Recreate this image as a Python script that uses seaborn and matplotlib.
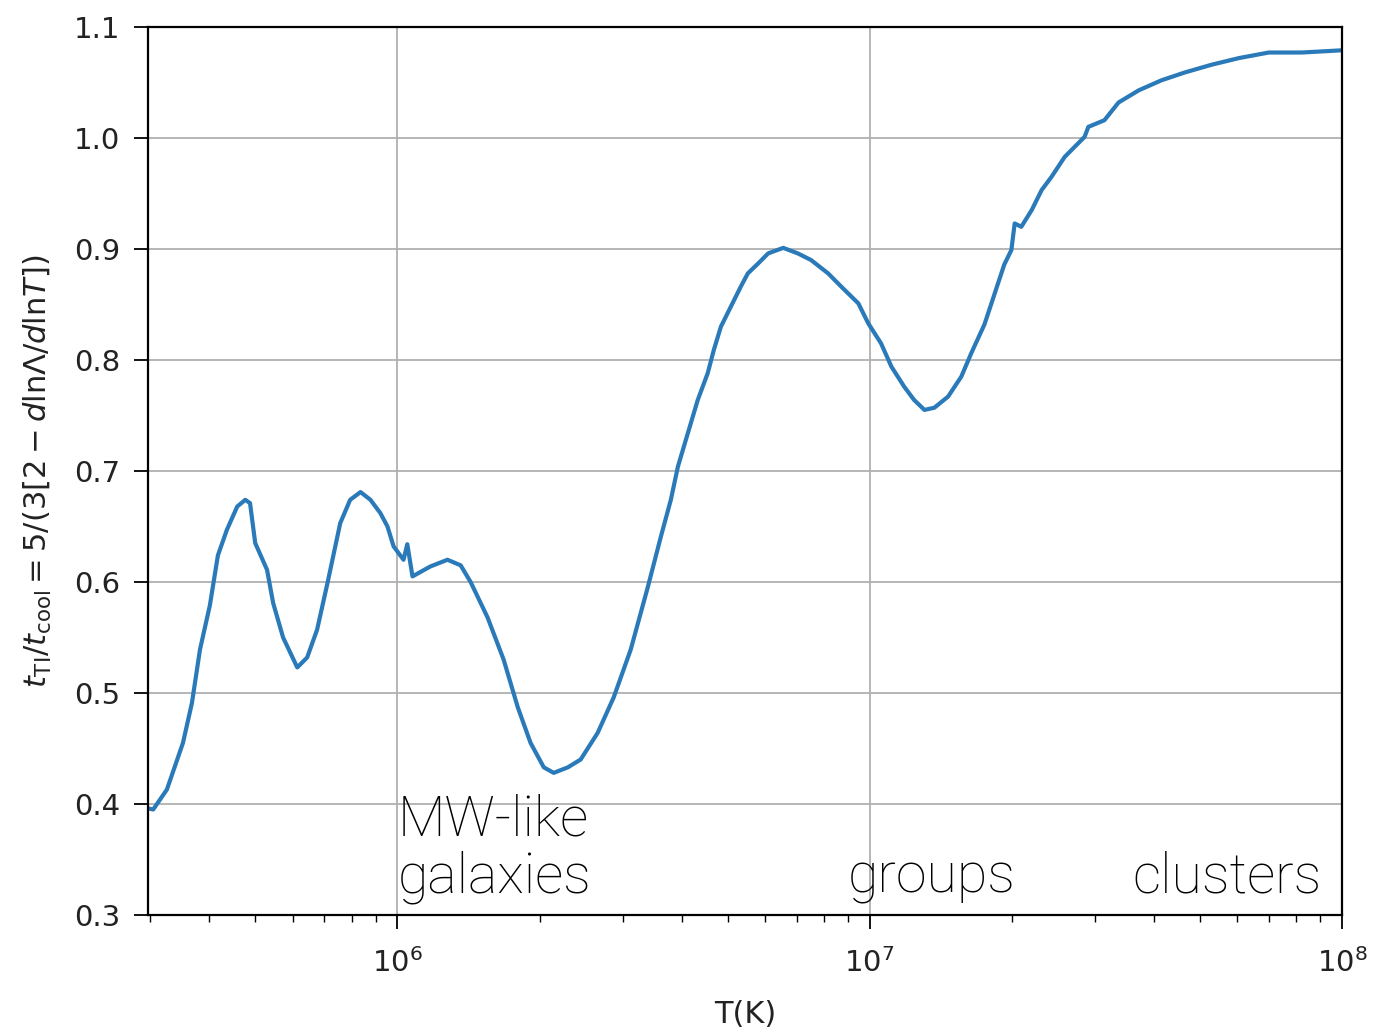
import numpy as np
import pandas as pd
import matplotlib
matplotlib.use("Agg")
import matplotlib.pyplot as plt
import seaborn as sns

# log10 of temperature (K) and ratio t_TI / t_cool
log_T = [5.472, 5.483, 5.512, 5.546, 5.565, 5.582, 5.603, 5.620, 5.639, 5.661,
         5.678, 5.688, 5.699, 5.724, 5.737, 5.758, 5.788, 5.809, 5.830, 5.852,
         5.879, 5.900, 5.922, 5.943, 5.964, 5.979, 5.992, 6.013, 6.021, 6.032,
         6.070, 6.106, 6.134, 6.155, 6.191, 6.225, 6.255, 6.282, 6.310, 6.331,
         6.361, 6.388, 6.424, 6.458, 6.494, 6.530, 6.558, 6.579, 6.594, 6.615,
         6.636, 6.657, 6.670, 6.685, 6.706, 6.727, 6.742, 6.764, 6.785, 6.817,
         6.848, 6.876, 6.912, 6.940, 6.976, 6.997, 7.024, 7.046, 7.073, 7.094,
         7.116, 7.137, 7.166, 7.194, 7.215, 7.243, 7.264, 7.285, 7.300, 7.307,
         7.321, 7.343, 7.364, 7.385, 7.413, 7.455, 7.463, 7.497, 7.527, 7.570,
         7.618, 7.667, 7.724, 7.782, 7.845, 7.915, 8.000]
ratio = [0.396, 0.395, 0.413, 0.455, 0.491, 0.539, 0.579, 0.624, 0.647, 0.668,
         0.674, 0.671, 0.635, 0.611, 0.581, 0.550, 0.523, 0.532, 0.557, 0.599,
         0.653, 0.674, 0.681, 0.674, 0.662, 0.650, 0.632, 0.620, 0.634, 0.605,
         0.614, 0.620, 0.615, 0.600, 0.568, 0.530, 0.487, 0.455, 0.433, 0.428,
         0.433, 0.440, 0.464, 0.496, 0.539, 0.595, 0.641, 0.674, 0.704, 0.734,
         0.764, 0.788, 0.809, 0.830, 0.848, 0.866, 0.878, 0.887, 0.896, 0.901,
         0.896, 0.890, 0.878, 0.866, 0.851, 0.833, 0.815, 0.794, 0.776, 0.764,
         0.755, 0.757, 0.767, 0.785, 0.806, 0.832, 0.859, 0.886, 0.899, 0.923,
         0.920, 0.935, 0.953, 0.965, 0.983, 1.001, 1.010, 1.016, 1.032, 1.043,
         1.052, 1.059, 1.066, 1.072, 1.077, 1.077, 1.079]

y_ticks = [0.3, 0.4, 0.5, 0.6, 0.7, 0.8, 0.9, 1.0, 1.1]
labels = ["MW-like\ngalaxies", "groups", "clusters"]
label_T = [1.0e6, 9.0e6, 3.6e7]

df = pd.DataFrame({"T": 10 ** np.array(log_T), "ratio": ratio})

sns.set_style("ticks")
plt.rcParams["font.family"] = ["DejaVu Sans"]

fig = plt.figure(figsize=(13.73, 10.30), dpi=100)
ax = fig.add_axes([0.1078, 0.1117, 0.8696, 0.8621])

sns.lineplot(data=df, x="T", y="ratio", ax=ax, color="#2a7ab9",
             linewidth=3.0, estimator=None, sort=False)

ax.set_xscale("log")
ax.set_xlim(10 ** 5.472, 1e8)
ax.set_ylim(0.3, 1.1)
ax.set_yticks(y_ticks)
ax.set_yticklabels([f"{v:.1f}" for v in y_ticks])
ax.grid(True, which="major", color="#b0b0b0", linewidth=1.3)
ax.tick_params(axis="both", which="major", labelsize=21, length=10, width=1.3,
               direction="out", color="black", labelcolor="#222222")
ax.tick_params(axis="y", which="major", pad=10)
ax.tick_params(axis="x", which="major", pad=14)
ax.tick_params(axis="x", which="minor", length=5, width=1.0, color="black")
for s in ax.spines.values():
    s.set_linewidth(1.6)
    s.set_color("black")

ax.set_xlabel("T(K)", fontsize=22, labelpad=16, color="#222222")
ax.set_ylabel(r"$t_{\rm TI}/t_{\rm cool} = 5/(3[2 - d{\rm ln}\Lambda/d{\rm ln}T])$",
              fontsize=22, labelpad=14, color="#222222")

for lab, tx in zip(labels, label_T):
    ax.text(tx, 0.320, lab, fontsize=40, family=["Roboto", "DejaVu Sans"],
            fontweight="light", ha="left", va="baseline", linespacing=1.1,
            color="black")

fig.savefig("out.png", dpi=100)
